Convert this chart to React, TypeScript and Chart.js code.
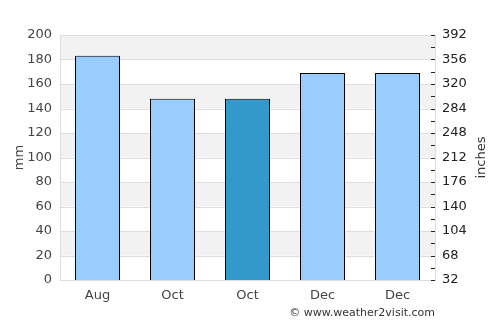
import React, { useEffect, useRef } from "react";
import { Chart, registerables } from "chart.js";

Chart.register(...registerables);

const categories = ["Aug", "Oct", "Oct", "Dec", "Dec"];
const rainfallMm = [183, 148, 148, 169, 169];
const barColors = ["#99ccff", "#99ccff", "#3399cc", "#99ccff", "#99ccff"];
const mmMin = 0;
const mmMax = 200;
const mmStep = 20;
const rightMin = 32;
const rightMax = 392;
const rightStep = 18;
const rightTitle = "inches";
const footerText = "\u00a9 www.weather2visit.com";

const FONT = "'DejaVu Sans', sans-serif";

const bandsPlugin = {
  id: "bands",
  beforeDatasetsDraw(chart: any) {
    const { ctx, chartArea } = chart;
    const y = chart.scales.y;
    ctx.save();
    ctx.fillStyle = "#f2f2f2";
    for (let v = mmMin; v < mmMax; v += mmStep) {
      const idx = Math.round((v - mmMin) / mmStep);
      if (idx % 2 === 1) {
        const top = y.getPixelForValue(v + mmStep);
        const bot = y.getPixelForValue(v);
        ctx.fillRect(chartArea.left, top, chartArea.right - chartArea.left, bot - top);
      }
    }
    ctx.strokeStyle = "#dddddd";
    ctx.lineWidth = 1;
    for (let v = mmMin; v <= mmMax; v += mmStep) {
      const py = Math.round(y.getPixelForValue(v)) + 0.5;
      ctx.beginPath();
      ctx.moveTo(chartArea.left, py);
      ctx.lineTo(chartArea.right, py);
      ctx.stroke();
    }
    ctx.restore();
  },
  afterDraw(chart: any) {
    const { ctx, chartArea } = chart;
    const y2 = chart.scales.y2;
    ctx.save();
    // plot frame
    ctx.strokeStyle = "#dddddd";
    ctx.lineWidth = 1;
    ctx.strokeRect(
      Math.round(chartArea.left) + 0.5,
      Math.round(chartArea.top) + 0.5,
      Math.round(chartArea.right - chartArea.left),
      Math.round(chartArea.bottom - chartArea.top)
    );
    // right axis tick marks, inside
    ctx.strokeStyle = "#222222";
    for (let v = rightMin; v <= rightMax; v += rightStep) {
      const py = Math.round(y2.getPixelForValue(v)) + 0.5;
      ctx.beginPath();
      ctx.moveTo(chartArea.right - 4, py);
      ctx.lineTo(chartArea.right, py);
      ctx.stroke();
    }
    // right axis title, reading bottom to top
    ctx.save();
    ctx.translate(482, (chartArea.top + chartArea.bottom) / 2);
    ctx.rotate(-Math.PI / 2);
    ctx.fillStyle = "#333333";
    ctx.font = "13px " + FONT;
    ctx.textAlign = "center";
    ctx.textBaseline = "middle";
    ctx.fillText(rightTitle, 0, 0);
    ctx.restore();
    // footer
    ctx.fillStyle = "#333333";
    ctx.font = "11px " + FONT;
    ctx.textAlign = "right";
    ctx.textBaseline = "middle";
    ctx.fillText(footerText, chartArea.right, 313);
    ctx.restore();
  },
};

export default function App() {
  const ref = useRef<HTMLCanvasElement>(null);
  useEffect(() => {
    document.body.style.margin = "0";
    const chart = new Chart(ref.current as HTMLCanvasElement, {
      type: "bar",
      data: {
        labels: categories,
        datasets: [
          {
            data: rainfallMm,
            backgroundColor: barColors,
            borderColor: "#000000",
            borderWidth: 1,
            barPercentage: 0.6,
            categoryPercentage: 1,
            yAxisID: "y",
          },
        ],
      },
      options: {
        animation: false,
        responsive: false,
        maintainAspectRatio: false,
        layout: { padding: { top: 35, left: 0, right: 0, bottom: 0 } },
        plugins: { legend: { display: false }, tooltip: { enabled: false } },
        scales: {
          x: {
            grid: { display: false, drawTicks: false },
            border: { display: false },
            ticks: { color: "#444444", font: { family: FONT, size: 13 }, padding: 8 },
            afterFit(scale: any) {
              scale.height = 45;
            },
          },
          y: {
            position: "left",
            min: mmMin,
            max: mmMax,
            grid: { display: false, drawTicks: false },
            border: { display: false },
            ticks: { stepSize: mmStep, color: "#444444", font: { family: FONT, size: 13 }, padding: 8 },
            title: { display: true, text: "mm", color: "#444444", font: { family: FONT, size: 13 }, padding: { top: 12, bottom: 0 } },
            afterFit(scale: any) {
              scale.width = 60;
            },
          },
          y2: {
            position: "right",
            min: rightMin,
            max: rightMax,
            grid: { display: false, drawTicks: false },
            border: { display: false },
            ticks: {
              stepSize: rightStep,
              color: "#222222",
              font: { family: FONT, size: 13 },
              padding: 7,
              autoSkip: false,
              callback: (v: any) => (((Number(v) - rightMin) / rightStep) % 2 === 0 ? String(v) : ""),
            },
            afterFit(scale: any) {
              scale.width = 65;
            },
          },
        },
      },
      plugins: [bandsPlugin],
    });
    return () => chart.destroy();
  }, []);
  return (
    <div style={{ width: 500, height: 325 }}>
      <canvas ref={ref} width={500} height={325} style={{ width: 500, height: 325, display: "block" }} />
    </div>
  );
}
